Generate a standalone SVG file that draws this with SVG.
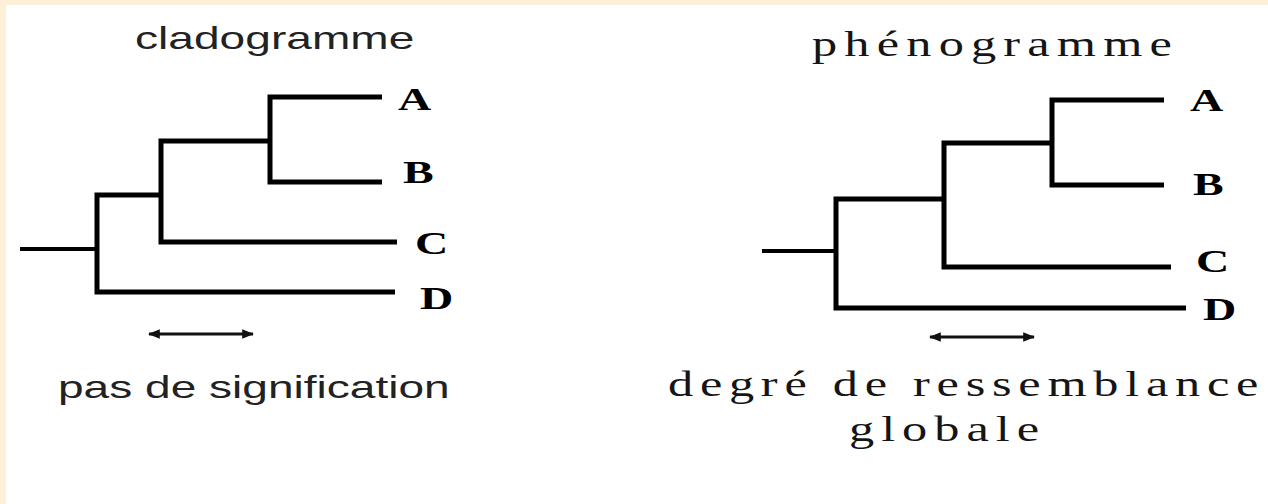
<svg xmlns="http://www.w3.org/2000/svg" width="1268" height="504" viewBox="0 0 1268 504">
  <defs>
    <style>
      .br { fill: none; stroke: #000; stroke-width: 5; stroke-linejoin: miter; stroke-linecap: butt; }
      .root { fill: none; stroke: #000; stroke-width: 4; }
      .arr { fill: none; stroke: #111; stroke-width: 3; marker-start: url(#ah); marker-end: url(#ah); }
      .sans { font-family: "Liberation Sans", Arial, sans-serif; font-size: 32px; fill: #222; }
      .serif { font-family: "Liberation Serif", "Times New Roman", serif; font-size: 35px; fill: #151515; }
      .lbl { font-family: "Liberation Serif", "Times New Roman", serif; font-size: 32px; font-weight: bold; fill: #000; }
    </style>
    <marker id="ah" viewBox="0 0 10 8" refX="9" refY="4" markerWidth="4" markerHeight="3.2" orient="auto-start-reverse" markerUnits="strokeWidth">
      <path d="M0,0 L10,4 L0,8 Z" fill="#111"/>
    </marker>
  </defs>

  <rect x="0" y="0" width="1268" height="504" fill="#fdf0d9"/>
  <rect x="6" y="5" width="1262" height="499" fill="#ffffff"/>

  <g id="connectors">
    <!-- cladogramme -->
    <path class="br" d="M382,97 H270 V182 H382"/>
    <path class="br" d="M270,141 H161 V242 H397"/>
    <path class="br" d="M161,195 H97 V292 H395"/>
    <path class="root" d="M20,249 H97"/>
    <line class="arr" x1="149" y1="334" x2="253" y2="334"/>
    <!-- phenogramme -->
    <path class="br" d="M1164,100 H1052 V185 H1164"/>
    <path class="br" d="M1052,143 H944 V267 H1171"/>
    <path class="br" d="M944,199 H836 V308 H1186"/>
    <path class="root" d="M762,251 H836"/>
    <line class="arr" x1="930" y1="337" x2="1034" y2="337"/>
  </g>

  <g id="title-cladogramme">
    <text class="sans" transform="translate(135,49) scale(1.44,1)" textLength="194" lengthAdjust="spacing">cladogramme</text>
  </g>
  <g id="caption-cladogramme">
    <text class="sans" transform="translate(58,398) scale(1.44,1)" textLength="272" lengthAdjust="spacing">pas de signification</text>
  </g>
  <g id="title-phenogramme">
    <text class="serif" transform="translate(812,56) scale(1.44,1)" textLength="250" lengthAdjust="spacing">phénogramme</text>
  </g>
  <g id="caption-phenogramme">
    <text class="serif" transform="translate(668,396) scale(1.44,1)" textLength="410" lengthAdjust="spacing">degré de ressemblance</text>
    <text class="serif" transform="translate(849,441) scale(1.44,1)" textLength="132" lengthAdjust="spacing">globale</text>
  </g>

  <g id="clado-A"><text class="lbl" transform="translate(398,110) scale(1.44,1)">A</text></g>
  <g id="clado-B"><text class="lbl" transform="translate(403,183) scale(1.44,1)">B</text></g>
  <g id="clado-C"><text class="lbl" transform="translate(415,254) scale(1.44,1)">C</text></g>
  <g id="clado-D"><text class="lbl" transform="translate(420,309) scale(1.44,1)">D</text></g>

  <g id="pheno-A"><text class="lbl" transform="translate(1190,111) scale(1.44,1)">A</text></g>
  <g id="pheno-B"><text class="lbl" transform="translate(1193,195) scale(1.44,1)">B</text></g>
  <g id="pheno-C"><text class="lbl" transform="translate(1196,272) scale(1.44,1)">C</text></g>
  <g id="pheno-D"><text class="lbl" transform="translate(1203,320) scale(1.44,1)">D</text></g>
</svg>
